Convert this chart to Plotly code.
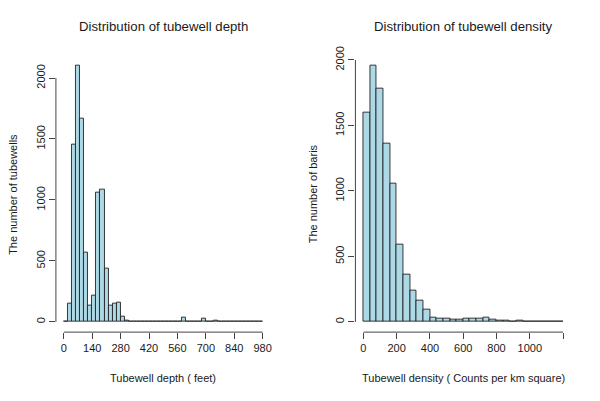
import plotly.graph_objects as go

# ---- data ----
depth_bin_width = 20
depth_counts = [5, 150, 1450, 2100, 1665, 570, 135, 217, 1064, 1081,
                440, 137, 151, 159, 41, 8, 6, 5, 2, 1,
                3, 1, 2, 3, 1, 2, 1, 3, 4, 36,
                4, 6, 5, 2, 27, 3, 2, 10, 4, 6,
                2, 1, 3, 1, 1, 2, 1, 1, 2]
depth_ticks = [0, 140, 280, 420, 560, 700, 840, 980]

density_bin_width = 40
density_counts = [1600, 1955, 1780, 1360, 1055, 590, 363, 238, 164, 95,
                  33, 28, 28, 20, 18, 26, 23, 26, 33, 20,
                  13, 10, 5, 10, 2, 1, 1, 1, 1, 1]
density_ticks = [0, 200, 400, 600, 800, 1000, 1200]
density_ticklabels = ["0", "200", "400", "600", "800", "1000", ""]

y_ticks = [0, 500, 1000, 1500, 2000]

titles = ["Distribution of tubewell depth", "Distribution of tubewell density"]
xtitles = ["Tubewell depth ( feet)", "Tubewell density ( Counts per km square)"]
ytitles = ["The number of tubewells", "The number of baris"]

# page offset (browser body margin) compensation
OFF = 8
W, H = 600 - OFF, 401 - OFF
FONT = "Liberation Sans, Arial, Helvetica, sans-serif"
TXT = "#1a1a1a"
AX = "#444444"

def px(x):
    return (x - OFF) / W

def py(y):
    return 1 - (y - OFF) / H

def centers(counts, w):
    return [w * i + w / 2 for i in range(len(counts))]

fig = go.Figure()
fig.add_trace(go.Bar(x=centers(depth_counts, depth_bin_width), y=depth_counts,
                     width=depth_bin_width, marker=dict(color="#ADD8E6", line=dict(color="#222222", width=0.9)),
                     xaxis="x", yaxis="y", showlegend=False))
fig.add_trace(go.Bar(x=centers(density_counts, density_bin_width), y=density_counts,
                     width=density_bin_width, marker=dict(color="#ADD8E6", line=dict(color="#222222", width=0.9)),
                     xaxis="x2", yaxis="y2", showlegend=False))

# R-style ranges (4% expansion)
dx1 = depth_bin_width * len(depth_counts)
dx2 = density_bin_width * len(density_counts)
ym1 = max(depth_counts)
ym2 = max(density_counts)

ydom = [py(330.5), py(47.5)]
dom1 = [px(56), px(271)]
dom2 = [px(356), px(572)]

common_x = dict(showgrid=False, zeroline=False, showline=False, ticks="outside", ticklen=6,
                tickcolor=AX, tickwidth=1, tickfont=dict(size=11, color=TXT, family=FONT),
                tickmode="array")
common_y = dict(showgrid=False, zeroline=False, showline=False, ticks="outside", ticklen=6,
                tickcolor=AX, tickwidth=1, tickfont=dict(size=11, color=TXT, family=FONT),
                tickmode="array", tickvals=y_ticks, ticktext=[str(v) for v in y_ticks],
                tickangle=-90)

fig.update_layout(
    width=W, height=H, margin=dict(l=0, r=0, t=0, b=0),
    paper_bgcolor="white", plot_bgcolor="white", bargap=0,
    font=dict(family=FONT, color=TXT),
    xaxis=dict(common_x, domain=dom1, range=[-0.04 * dx1, 1.04 * dx1],
               tickvals=depth_ticks, ticktext=[str(v) for v in depth_ticks], anchor="y"),
    yaxis=dict(common_y, domain=ydom, range=[-0.04 * ym1, 1.04 * ym1], anchor="x"),
    xaxis2=dict(common_x, domain=dom2, range=[-0.04 * dx2, 1.04 * dx2],
                tickvals=density_ticks, ticktext=density_ticklabels, anchor="y2"),
    yaxis2=dict(common_y, domain=ydom, range=[-0.04 * ym2, 1.04 * ym2], anchor="x2"),
)

shapes = []
for xr, yr, xt, yt in [("x", "y", depth_ticks, y_ticks), ("x2", "y2", density_ticks, y_ticks)]:
    shapes.append(dict(type="line", xref=xr, yref=yr + " domain", x0=xt[0], x1=xt[-1], y0=0, y1=0,
                       line=dict(color=AX, width=1)))
    shapes.append(dict(type="line", xref=xr + " domain", yref=yr, x0=0, x1=0, y0=yt[0], y1=yt[-1],
                       line=dict(color=AX, width=1)))
fig.update_layout(shapes=shapes)

anns = []
for i, (t, xt, yt) in enumerate(zip(titles, xtitles, ytitles)):
    dom = dom1 if i == 0 else dom2
    cx = (dom[0] + dom[1]) / 2
    anns.append(dict(text=t, x=cx, y=py(18), xref="paper", yref="paper", showarrow=False,
                     xanchor="center", yanchor="middle", font=dict(size=13.2, color=TXT, family=FONT)))
    anns.append(dict(text=xt, x=cx, y=py(377), xref="paper", yref="paper", showarrow=False,
                     xanchor="center", yanchor="middle", font=dict(size=11, color=TXT, family=FONT)))
    anns.append(dict(text=yt, x=px(13 + 300 * i), y=py(189), xref="paper", yref="paper",
                     showarrow=False, textangle=-90, xanchor="center", yanchor="middle",
                     font=dict(size=11, color=TXT, family=FONT)))
fig.update_layout(annotations=anns)

fig.write_html("out.html")
